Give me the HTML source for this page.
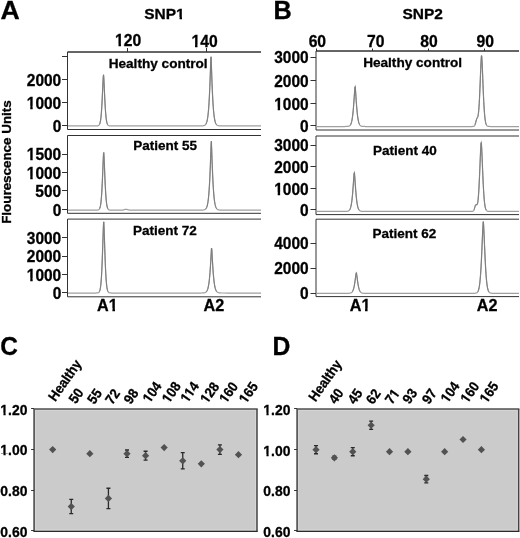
<!DOCTYPE html>
<html><head><meta charset="utf-8"><style>html,body{margin:0;padding:0;background:#fff;width:520px;height:538px;overflow:hidden}svg{display:block;will-change:transform;filter:blur(0.3px)}text{stroke:#000;stroke-width:0.3px}</style></head>
<body><svg width="520" height="538" viewBox="0 0 520 538" font-family="Liberation Sans, sans-serif" font-weight="bold" fill="#000"><text transform="translate(0.40,18.96) scale(1,0.987)" font-size="26.67">A</text>
<text transform="translate(273.47,18.70) scale(1,1.022)" font-size="25.25">B</text>
<text transform="translate(0.22,355.14) scale(1,1.071)" font-size="24.46">C</text>
<text transform="translate(272.53,355.00) scale(1,1.036)" font-size="24.75">D</text>
<text transform="translate(144.21,19.05) scale(1,0.981)" font-size="15.50">SNP1</text><path transform="translate(144.21,19.05) scale(1,0.981)" d="M31.87,-2.17H35.34V1.40H31.87ZM37.79,-2.17H41.79V1.40H37.79Z" fill="#fff"/>
<text transform="translate(402.45,19.05) scale(1,0.981)" font-size="15.50">SNP2</text>
<line x1="67.5" y1="52" x2="261" y2="52" stroke="#333" stroke-width="1"/>
<line x1="127.5" y1="48" x2="127.5" y2="52" stroke="#333" stroke-width="1"/>
<line x1="206.5" y1="48" x2="206.5" y2="52" stroke="#333" stroke-width="1"/>
<text transform="translate(114.96,46.19) scale(1,1.050)" font-size="15.70">120</text><path transform="translate(114.96,46.19) scale(1,1.050)" d="M-0.79,-2.20H3.52V1.41H-0.79ZM6.00,-2.20H8.87V1.41H6.00Z" fill="#fff"/>
<text transform="translate(191.50,46.95) scale(1,1.050)" font-size="15.70">140</text><path transform="translate(191.50,46.95) scale(1,1.050)" d="M-0.79,-2.20H3.52V1.41H-0.79ZM6.00,-2.20H8.87V1.41H6.00Z" fill="#fff"/>
<path d="M261,52 H67.5 V129.5 H261" fill="none" stroke="#333" stroke-width="1"/>
<line x1="62" y1="56.5" x2="67.5" y2="56.5" stroke="#333" stroke-width="1"/>
<line x1="62" y1="79.5" x2="67.5" y2="79.5" stroke="#333" stroke-width="1"/>
<text transform="translate(26.77,85.51) scale(1,1.050)" font-size="15.50">2000</text>
<line x1="62" y1="102.5" x2="67.5" y2="102.5" stroke="#333" stroke-width="1"/>
<text transform="translate(26.77,108.61) scale(1,1.050)" font-size="15.50">1000</text><path transform="translate(26.77,108.61) scale(1,1.050)" d="M-0.78,-2.17H3.47V1.40H-0.78ZM5.92,-2.17H8.76V1.40H5.92Z" fill="#fff"/>
<line x1="62" y1="125.5" x2="67.5" y2="125.5" stroke="#333" stroke-width="1"/>
<text transform="translate(52.65,131.71) scale(1,1.050)" font-size="15.50">0</text>
<path d="M261,135.5 H67.5 V213.3 H261" fill="none" stroke="#333" stroke-width="1"/>
<line x1="62" y1="154.5" x2="67.5" y2="154.5" stroke="#333" stroke-width="1"/>
<text transform="translate(26.77,160.17) scale(1,1.050)" font-size="15.50">1500</text><path transform="translate(26.77,160.17) scale(1,1.050)" d="M-0.78,-2.17H3.47V1.40H-0.78ZM5.92,-2.17H8.76V1.40H5.92Z" fill="#fff"/>
<line x1="62" y1="172.5" x2="67.5" y2="172.5" stroke="#333" stroke-width="1"/>
<text transform="translate(26.77,179.05) scale(1,1.050)" font-size="15.50">1000</text><path transform="translate(26.77,179.05) scale(1,1.050)" d="M-0.78,-2.17H3.47V1.40H-0.78ZM5.92,-2.17H8.76V1.40H5.92Z" fill="#fff"/>
<line x1="62" y1="190.5" x2="67.5" y2="190.5" stroke="#333" stroke-width="1"/>
<text transform="translate(35.29,196.91) scale(1,1.050)" font-size="15.50">500</text>
<line x1="62" y1="209.5" x2="67.5" y2="209.5" stroke="#333" stroke-width="1"/>
<text transform="translate(52.65,215.87) scale(1,1.050)" font-size="15.50">0</text>
<path d="M261,219.1 H67.5 V296.8 H261" fill="none" stroke="#333" stroke-width="1"/>
<line x1="62" y1="237.5" x2="67.5" y2="237.5" stroke="#333" stroke-width="1"/>
<text transform="translate(26.77,243.51) scale(1,1.050)" font-size="15.50">3000</text>
<line x1="62" y1="256.5" x2="67.5" y2="256.5" stroke="#333" stroke-width="1"/>
<text transform="translate(26.77,262.11) scale(1,1.050)" font-size="15.50">2000</text>
<line x1="62" y1="274.5" x2="67.5" y2="274.5" stroke="#333" stroke-width="1"/>
<text transform="translate(26.77,280.71) scale(1,1.050)" font-size="15.50">1000</text><path transform="translate(26.77,280.71) scale(1,1.050)" d="M-0.78,-2.17H3.47V1.40H-0.78ZM5.92,-2.17H8.76V1.40H5.92Z" fill="#fff"/>
<line x1="62" y1="292.5" x2="67.5" y2="292.5" stroke="#333" stroke-width="1"/>
<text transform="translate(52.65,298.51) scale(1,1.050)" font-size="15.50">0</text>
<polyline points="68.00,125.90 72.00,125.90 76.00,125.90 80.00,125.90 84.00,125.90 88.00,125.90 92.00,125.90 94.30,125.90 94.55,125.90 94.80,125.90 95.05,125.90 95.30,125.90 95.55,125.90 95.80,125.90 96.00,125.89 96.05,125.89 96.30,125.89 96.55,125.88 96.80,125.88 97.05,125.86 97.30,125.84 97.55,125.81 97.80,125.77 98.05,125.71 98.30,125.62 98.55,125.50 98.80,125.32 99.05,125.07 99.30,124.73 99.55,124.27 99.80,123.66 100.00,123.02 100.05,122.83 100.30,121.76 100.55,120.37 100.80,118.60 101.05,116.39 101.30,113.67 101.55,110.39 101.80,106.51 102.05,102.06 102.30,97.07 102.55,91.70 102.80,86.17 103.05,80.89 103.30,76.48 103.55,74.75 103.80,78.08 104.00,81.90 104.05,82.94 104.30,88.38 104.55,93.88 104.80,99.12 105.05,103.91 105.30,108.14 105.55,111.77 105.80,114.82 106.05,117.33 106.30,119.36 106.55,120.97 106.80,122.22 107.05,123.19 107.30,123.92 107.55,124.48 107.80,124.88 108.00,125.13 108.05,125.18 108.30,125.40 108.55,125.55 108.80,125.66 109.05,125.74 109.30,125.79 109.55,125.83 109.80,125.85 110.05,125.87 110.30,125.88 110.55,125.89 110.80,125.89 111.05,125.89 111.30,125.90 111.55,125.90 111.80,125.90 112.00,125.90 112.05,125.90 112.30,125.90 112.55,125.90 116.00,125.90 120.00,125.90 124.00,125.90 128.00,125.90 132.00,125.90 136.00,125.90 140.00,125.90 144.00,125.90 148.00,125.90 152.00,125.90 156.00,125.90 160.00,125.90 164.00,125.90 168.00,125.90 172.00,125.90 176.00,125.90 180.00,125.90 184.00,125.90 188.00,125.90 192.00,125.90 196.00,125.90 200.00,125.89 201.80,125.87 202.05,125.85 202.30,125.84 202.55,125.82 202.80,125.80 203.05,125.78 203.30,125.74 203.55,125.70 203.80,125.64 204.00,125.59 204.05,125.57 204.30,125.48 204.55,125.37 204.80,125.23 205.05,125.05 205.30,124.83 205.55,124.56 205.80,124.22 206.05,123.80 206.30,123.28 206.55,122.65 206.80,121.87 207.05,120.93 207.30,119.78 207.55,118.39 207.80,116.73 208.00,115.17 208.05,114.74 208.30,112.37 208.55,109.58 208.80,106.30 209.05,102.48 209.30,98.08 209.55,93.05 209.80,87.39 210.05,81.11 210.30,74.32 210.55,67.22 210.80,60.30 211.05,56.78 211.30,62.99 211.55,70.07 211.80,77.09 212.00,82.41 212.05,83.69 212.30,89.73 212.55,95.14 212.80,99.91 213.05,104.08 213.30,107.67 213.55,110.75 213.80,113.37 214.05,115.58 214.30,117.43 214.55,118.98 214.80,120.26 215.05,121.33 215.30,122.20 215.55,122.92 215.80,123.50 216.00,123.89 216.05,123.98 216.30,124.36 216.55,124.67 216.80,124.92 217.05,125.13 217.30,125.29 217.55,125.42 217.80,125.52 218.05,125.60 218.30,125.66 218.55,125.72 218.80,125.76 219.05,125.79 219.30,125.81 219.55,125.83 219.80,125.85 220.00,125.86 220.05,125.86 224.00,125.90 228.00,125.90 232.00,125.90 236.00,125.90 240.00,125.90 244.00,125.90 248.00,125.90 252.00,125.90 256.00,125.90 260.00,125.90 261.00,125.90" fill="none" stroke="#a0a0a0" stroke-width="1.25"/>
<polyline points="99.55,124.27 99.80,123.66 100.00,123.02 100.05,122.83 100.30,121.76 100.55,120.37 100.80,118.60 101.05,116.39 101.30,113.67 101.55,110.39 101.80,106.51 102.05,102.06 102.30,97.07 102.55,91.70 102.80,86.17 103.05,80.89 103.30,76.48 103.55,74.75 103.80,78.08 104.00,81.90 104.05,82.94 104.30,88.38 104.55,93.88 104.80,99.12 105.05,103.91 105.30,108.14 105.55,111.77 105.80,114.82 106.05,117.33 106.30,119.36 106.55,120.97 106.80,122.22 107.05,123.19 107.30,123.92 107.55,124.48" fill="none" stroke="#7c7c7c" stroke-width="1.0"/>
<polyline points="205.55,124.56 205.80,124.22 206.05,123.80 206.30,123.28 206.55,122.65 206.80,121.87 207.05,120.93 207.30,119.78 207.55,118.39 207.80,116.73 208.00,115.17 208.05,114.74 208.30,112.37 208.55,109.58 208.80,106.30 209.05,102.48 209.30,98.08 209.55,93.05 209.80,87.39 210.05,81.11 210.30,74.32 210.55,67.22 210.80,60.30 211.05,56.78 211.30,62.99 211.55,70.07 211.80,77.09 212.00,82.41 212.05,83.69 212.30,89.73 212.55,95.14 212.80,99.91 213.05,104.08 213.30,107.67 213.55,110.75 213.80,113.37 214.05,115.58 214.30,117.43 214.55,118.98 214.80,120.26 215.05,121.33 215.30,122.20 215.55,122.92 215.80,123.50 216.00,123.89 216.05,123.98 216.30,124.36 216.55,124.67" fill="none" stroke="#7c7c7c" stroke-width="1.0"/>
<polyline points="68.00,210.10 72.00,210.10 76.00,210.10 80.00,210.10 84.00,210.10 88.00,210.10 92.00,210.10 94.50,210.10 94.75,210.10 95.00,210.10 95.25,210.10 95.50,210.10 95.75,210.10 96.00,210.10 96.25,210.09 96.50,210.09 96.75,210.08 97.00,210.07 97.25,210.06 97.50,210.03 97.75,210.00 98.00,209.95 98.25,209.89 98.50,209.79 98.75,209.64 99.00,209.45 99.25,209.17 99.50,208.79 99.75,208.27 100.00,207.57 100.25,206.65 100.50,205.43 100.75,203.87 101.00,201.88 101.25,199.39 101.50,196.32 101.75,192.63 102.00,188.26 102.25,183.24 102.50,177.63 102.75,171.57 103.00,165.35 103.25,159.40 103.50,154.43 103.75,152.48 104.00,156.24 104.25,161.71 104.50,167.84 104.75,174.03 105.00,179.94 105.25,185.33 105.50,190.09 105.75,194.18 106.00,197.62 106.25,200.45 106.50,202.73 106.75,204.54 107.00,205.96 107.25,207.05 107.50,207.87 107.75,208.50 108.00,208.95 108.25,209.29 108.50,209.53 108.75,209.71 109.00,209.83 109.25,209.92 109.50,209.98 109.75,210.02 110.00,210.04 110.25,210.06 110.50,210.08 110.75,210.08 111.00,210.09 111.25,210.09 111.50,210.10 111.75,210.10 112.00,210.10 112.25,210.10 112.50,210.10 112.75,210.10 114.00,210.10 114.25,210.10 114.50,210.10 114.75,210.10 115.00,210.10 115.25,210.10 115.50,210.10 115.75,210.10 116.00,210.10 116.25,210.10 116.50,210.10 116.75,210.10 117.00,210.10 117.25,210.10 117.50,210.10 117.75,210.10 118.00,210.10 118.25,210.10 118.50,210.10 118.75,210.10 119.00,210.10 119.25,210.10 119.50,210.10 119.75,210.10 120.00,210.10 120.25,210.10 120.50,210.10 120.75,210.10 121.00,210.10 121.25,210.09 121.50,210.09 121.75,210.09 122.00,210.08 122.25,210.06 122.50,210.05 122.75,210.02 123.00,209.99 123.25,209.95 123.50,209.90 123.75,209.84 124.00,209.77 124.25,209.69 124.50,209.61 124.75,209.53 125.00,209.46 125.25,209.39 125.50,209.34 125.75,209.31 126.00,209.30 126.25,209.31 126.50,209.34 126.75,209.39 127.00,209.46 127.25,209.53 127.50,209.61 127.75,209.69 128.00,209.77 128.25,209.84 128.50,209.90 128.75,209.95 129.00,209.99 129.25,210.02 129.50,210.05 129.75,210.06 130.00,210.08 130.25,210.09 130.50,210.09 130.75,210.09 131.00,210.10 131.25,210.10 131.50,210.10 131.75,210.10 132.00,210.10 132.25,210.10 132.50,210.10 132.75,210.10 133.00,210.10 133.25,210.10 133.50,210.10 133.75,210.10 134.00,210.10 134.25,210.10 134.50,210.10 134.75,210.10 135.00,210.10 135.25,210.10 135.50,210.10 135.75,210.10 136.00,210.10 136.25,210.10 136.50,210.10 136.75,210.10 137.00,210.10 137.25,210.10 137.50,210.10 137.75,210.10 138.00,210.10 140.00,210.10 144.00,210.10 148.00,210.10 152.00,210.10 156.00,210.10 160.00,210.10 164.00,210.10 168.00,210.10 172.00,210.10 176.00,210.10 180.00,210.10 184.00,210.10 188.00,210.10 192.00,210.10 196.00,210.10 200.00,210.10 202.10,210.07 202.35,210.06 202.60,210.04 202.85,210.03 203.10,210.00 203.35,209.98 203.60,209.94 203.85,209.90 204.00,209.87 204.10,209.84 204.35,209.77 204.60,209.68 204.85,209.57 205.10,209.43 205.35,209.25 205.60,209.03 205.85,208.76 206.10,208.42 206.35,208.01 206.60,207.49 206.85,206.86 207.10,206.09 207.35,205.15 207.60,204.00 207.85,202.63 208.00,201.67 208.10,200.97 208.35,198.99 208.60,196.63 208.85,193.85 209.10,190.58 209.35,186.78 209.60,182.40 209.85,177.39 210.10,171.75 210.35,165.50 210.60,158.74 210.85,151.67 211.10,144.78 211.35,141.28 211.60,147.46 211.85,154.51 212.00,158.74 212.10,161.50 212.35,168.07 212.60,174.08 212.85,179.47 213.10,184.22 213.35,188.37 213.60,191.95 213.85,195.02 214.10,197.62 214.35,199.82 214.60,201.67 214.85,203.21 215.10,204.49 215.35,205.55 215.60,206.42 215.85,207.13 216.00,207.49 216.10,207.71 216.35,208.18 216.60,208.57 216.85,208.88 217.10,209.13 217.35,209.33 217.60,209.49 217.85,209.62 218.10,209.72 218.35,209.80 218.60,209.87 218.85,209.92 219.10,209.96 219.35,209.99 219.60,210.01 219.85,210.03 220.00,210.04 220.10,210.05 220.35,210.06 224.00,210.10 228.00,210.10 232.00,210.10 236.00,210.10 240.00,210.10 244.00,210.10 248.00,210.10 252.00,210.10 256.00,210.10 260.00,210.10 261.00,210.10" fill="none" stroke="#a0a0a0" stroke-width="1.25"/>
<polyline points="99.50,208.79 99.75,208.27 100.00,207.57 100.25,206.65 100.50,205.43 100.75,203.87 101.00,201.88 101.25,199.39 101.50,196.32 101.75,192.63 102.00,188.26 102.25,183.24 102.50,177.63 102.75,171.57 103.00,165.35 103.25,159.40 103.50,154.43 103.75,152.48 104.00,156.24 104.25,161.71 104.50,167.84 104.75,174.03 105.00,179.94 105.25,185.33 105.50,190.09 105.75,194.18 106.00,197.62 106.25,200.45 106.50,202.73 106.75,204.54 107.00,205.96 107.25,207.05 107.50,207.87 107.75,208.50" fill="none" stroke="#7c7c7c" stroke-width="1.0"/>
<polyline points="205.85,208.76 206.10,208.42 206.35,208.01 206.60,207.49 206.85,206.86 207.10,206.09 207.35,205.15 207.60,204.00 207.85,202.63 208.00,201.67 208.10,200.97 208.35,198.99 208.60,196.63 208.85,193.85 209.10,190.58 209.35,186.78 209.60,182.40 209.85,177.39 210.10,171.75 210.35,165.50 210.60,158.74 210.85,151.67 211.10,144.78 211.35,141.28 211.60,147.46 211.85,154.51 212.00,158.74 212.10,161.50 212.35,168.07 212.60,174.08 212.85,179.47 213.10,184.22 213.35,188.37 213.60,191.95 213.85,195.02 214.10,197.62 214.35,199.82 214.60,201.67 214.85,203.21 215.10,204.49 215.35,205.55 215.60,206.42 215.85,207.13 216.00,207.49 216.10,207.71 216.35,208.18 216.60,208.57 216.85,208.88" fill="none" stroke="#7c7c7c" stroke-width="1.0"/>
<polyline points="68.00,293.00 72.00,293.00 76.00,293.00 80.00,293.00 84.00,293.00 88.00,293.00 92.00,293.00 94.50,293.00 94.75,293.00 95.00,293.00 95.25,293.00 95.50,293.00 95.75,293.00 96.00,292.99 96.25,292.99 96.50,292.99 96.75,292.98 97.00,292.97 97.25,292.95 97.50,292.92 97.75,292.88 98.00,292.82 98.25,292.73 98.50,292.61 98.75,292.44 99.00,292.19 99.25,291.85 99.50,291.38 99.75,290.74 100.00,289.88 100.25,288.73 100.50,287.24 100.75,285.30 101.00,282.85 101.25,279.77 101.50,275.98 101.75,271.42 102.00,266.03 102.25,259.83 102.50,252.90 102.75,245.42 103.00,237.74 103.25,230.39 103.50,224.26 103.75,221.85 104.00,226.49 104.25,233.25 104.50,240.81 104.75,248.46 105.00,255.75 105.25,262.41 105.50,268.29 105.75,273.34 106.00,277.59 106.25,281.08 106.50,283.90 106.75,286.14 107.00,287.88 107.25,289.23 107.50,290.25 107.75,291.02 108.00,291.59 108.25,292.00 108.50,292.30 108.75,292.51 109.00,292.67 109.25,292.77 109.50,292.85 109.75,292.90 110.00,292.93 110.25,292.96 110.50,292.97 110.75,292.98 111.00,292.99 111.25,292.99 111.50,293.00 111.75,293.00 112.00,293.00 112.25,293.00 112.50,293.00 112.75,293.00 116.00,293.00 120.00,293.00 124.00,293.00 128.00,293.00 132.00,293.00 136.00,293.00 140.00,293.00 144.00,293.00 148.00,293.00 152.00,293.00 156.00,293.00 160.00,293.00 164.00,293.00 168.00,293.00 172.00,293.00 176.00,293.00 180.00,293.00 184.00,293.00 188.00,293.00 192.00,293.00 196.00,293.00 200.00,293.00 202.00,292.98 202.25,292.97 202.50,292.96 202.75,292.95 203.00,292.94 203.25,292.92 203.50,292.90 203.75,292.88 204.00,292.84 204.25,292.80 204.50,292.75 204.75,292.69 205.00,292.61 205.25,292.51 205.50,292.38 205.75,292.23 206.00,292.05 206.25,291.82 206.50,291.54 206.75,291.20 207.00,290.78 207.25,290.28 207.50,289.67 207.75,288.94 208.00,288.06 208.25,287.02 208.50,285.77 208.75,284.31 209.00,282.59 209.25,280.58 209.50,278.25 209.75,275.58 210.00,272.53 210.25,269.10 210.50,265.29 210.75,261.14 211.00,256.73 211.25,252.25 211.50,248.15 211.75,248.89 212.00,253.13 212.25,257.62 212.50,261.99 212.75,266.08 213.00,269.82 213.25,273.17 213.50,276.14 213.75,278.74 214.00,281.01 214.25,282.95 214.50,284.62 214.75,286.04 215.00,287.24 215.25,288.25 215.50,289.09 215.75,289.80 216.00,290.39 216.25,290.87 216.50,291.27 216.75,291.60 217.00,291.87 217.25,292.09 217.50,292.27 217.75,292.41 218.00,292.53 218.25,292.62 218.50,292.70 218.75,292.76 219.00,292.81 219.25,292.85 219.50,292.88 219.75,292.91 220.00,292.93 220.25,292.94 220.50,292.95 220.75,292.96 221.00,292.97 224.00,293.00 228.00,293.00 232.00,293.00 236.00,293.00 240.00,293.00 244.00,293.00 248.00,293.00 252.00,293.00 256.00,293.00 260.00,293.00 261.00,293.00" fill="none" stroke="#a0a0a0" stroke-width="1.25"/>
<polyline points="99.50,291.38 99.75,290.74 100.00,289.88 100.25,288.73 100.50,287.24 100.75,285.30 101.00,282.85 101.25,279.77 101.50,275.98 101.75,271.42 102.00,266.03 102.25,259.83 102.50,252.90 102.75,245.42 103.00,237.74 103.25,230.39 103.50,224.26 103.75,221.85 104.00,226.49 104.25,233.25 104.50,240.81 104.75,248.46 105.00,255.75 105.25,262.41 105.50,268.29 105.75,273.34 106.00,277.59 106.25,281.08 106.50,283.90 106.75,286.14 107.00,287.88 107.25,289.23 107.50,290.25 107.75,291.02 108.00,291.59" fill="none" stroke="#7c7c7c" stroke-width="1.0"/>
<polyline points="206.50,291.54 206.75,291.20 207.00,290.78 207.25,290.28 207.50,289.67 207.75,288.94 208.00,288.06 208.25,287.02 208.50,285.77 208.75,284.31 209.00,282.59 209.25,280.58 209.50,278.25 209.75,275.58 210.00,272.53 210.25,269.10 210.50,265.29 210.75,261.14 211.00,256.73 211.25,252.25 211.50,248.15 211.75,248.89 212.00,253.13 212.25,257.62 212.50,261.99 212.75,266.08 213.00,269.82 213.25,273.17 213.50,276.14 213.75,278.74 214.00,281.01 214.25,282.95 214.50,284.62 214.75,286.04 215.00,287.24 215.25,288.25 215.50,289.09 215.75,289.80 216.00,290.39 216.25,290.87 216.50,291.27 216.75,291.60" fill="none" stroke="#7c7c7c" stroke-width="1.0"/>
<text x="108.70" y="68.19" font-size="13.60">Healthy control</text>
<text x="133.25" y="150.36" font-size="13.50">Patient 55</text>
<text x="133.09" y="235.21" font-size="13.50">Patient 72</text>
<text x="97.09" y="310.54" font-size="16.20">A1</text><path transform="translate(97.09,310.54)" d="M11.70,-2.27H15.33V1.46H11.70ZM17.88,-2.27H22.06V1.46H17.88Z" fill="#fff"/>
<text x="203.46" y="310.67" font-size="16.20">A2</text>
<text transform="translate(10.88,162.05) rotate(-90)" font-size="13.40" text-anchor="middle">Flourescence Units</text>
<line x1="316" y1="51" x2="519" y2="51" stroke="#333" stroke-width="1"/>
<line x1="316.5" y1="48.5" x2="316.5" y2="51" stroke="#333" stroke-width="1"/>
<line x1="372.5" y1="48.5" x2="372.5" y2="51" stroke="#333" stroke-width="1"/>
<line x1="428.5" y1="48.5" x2="428.5" y2="51" stroke="#333" stroke-width="1"/>
<line x1="484.5" y1="48.5" x2="484.5" y2="51" stroke="#333" stroke-width="1"/>
<text transform="translate(308.63,46.54) scale(1,1.050)" font-size="15.70">60</text>
<text transform="translate(366.93,46.95) scale(1,1.050)" font-size="15.70">70</text>
<text transform="translate(420.33,46.95) scale(1,1.050)" font-size="15.70">80</text>
<text transform="translate(476.57,46.50) scale(1,1.050)" font-size="15.70">90</text>
<path d="M519,51 H316 V130 H519" fill="none" stroke="#333" stroke-width="1"/>
<line x1="310.5" y1="57.5" x2="316" y2="57.5" stroke="#333" stroke-width="1"/>
<text transform="translate(274.21,63.11) scale(1,1.050)" font-size="15.50">3000</text>
<line x1="310.5" y1="80.5" x2="316" y2="80.5" stroke="#333" stroke-width="1"/>
<text transform="translate(274.21,86.71) scale(1,1.050)" font-size="15.50">2000</text>
<line x1="310.5" y1="103.5" x2="316" y2="103.5" stroke="#333" stroke-width="1"/>
<text transform="translate(274.21,109.87) scale(1,1.050)" font-size="15.50">1000</text><path transform="translate(274.21,109.87) scale(1,1.050)" d="M-0.78,-2.17H3.47V1.40H-0.78ZM5.92,-2.17H8.76V1.40H5.92Z" fill="#fff"/>
<line x1="310.5" y1="125.5" x2="316" y2="125.5" stroke="#333" stroke-width="1"/>
<text transform="translate(300.10,131.81) scale(1,1.050)" font-size="15.50">0</text>
<path d="M519,136 H316 V214.6 H519" fill="none" stroke="#333" stroke-width="1"/>
<line x1="310.5" y1="145.5" x2="316" y2="145.5" stroke="#333" stroke-width="1"/>
<text transform="translate(274.21,151.11) scale(1,1.050)" font-size="15.50">3000</text>
<line x1="310.5" y1="166.5" x2="316" y2="166.5" stroke="#333" stroke-width="1"/>
<text transform="translate(274.21,172.81) scale(1,1.050)" font-size="15.50">2000</text>
<line x1="310.5" y1="188.5" x2="316" y2="188.5" stroke="#333" stroke-width="1"/>
<text transform="translate(274.21,194.71) scale(1,1.050)" font-size="15.50">1000</text><path transform="translate(274.21,194.71) scale(1,1.050)" d="M-0.78,-2.17H3.47V1.40H-0.78ZM5.92,-2.17H8.76V1.40H5.92Z" fill="#fff"/>
<line x1="310.5" y1="209.5" x2="316" y2="209.5" stroke="#333" stroke-width="1"/>
<text transform="translate(300.10,215.51) scale(1,1.050)" font-size="15.50">0</text>
<path d="M519,219.2 H316 V296.6 H519" fill="none" stroke="#333" stroke-width="1"/>
<line x1="310.5" y1="243.5" x2="316" y2="243.5" stroke="#333" stroke-width="1"/>
<text transform="translate(274.21,249.48) scale(1,1.050)" font-size="15.50">4000</text>
<line x1="310.5" y1="268.5" x2="316" y2="268.5" stroke="#333" stroke-width="1"/>
<text transform="translate(274.21,274.48) scale(1,1.050)" font-size="15.50">2000</text>
<line x1="310.5" y1="293.5" x2="316" y2="293.5" stroke="#333" stroke-width="1"/>
<text transform="translate(300.10,299.48) scale(1,1.050)" font-size="15.50">0</text>
<polyline points="316.50,126.50 320.50,126.50 324.50,126.50 328.50,126.50 332.50,126.50 336.50,126.50 340.50,126.50 344.50,126.50 344.70,126.50 344.95,126.50 345.20,126.50 345.45,126.49 345.70,126.49 345.95,126.49 346.20,126.48 346.45,126.48 346.70,126.47 346.95,126.46 347.20,126.45 347.45,126.43 347.70,126.40 347.95,126.37 348.20,126.33 348.45,126.28 348.50,126.27 348.70,126.21 348.95,126.13 349.20,126.02 349.45,125.88 349.70,125.70 349.95,125.47 350.20,125.19 350.45,124.84 350.70,124.40 350.95,123.86 351.20,123.20 351.45,122.40 351.70,121.42 351.95,120.26 352.20,118.87 352.45,117.23 352.50,116.87 352.70,115.31 352.95,113.10 353.20,110.57 353.45,107.72 353.70,104.56 353.95,101.13 354.20,97.50 354.45,93.79 354.70,90.20 354.95,87.14 355.20,86.65 355.45,89.53 355.70,93.05 355.95,96.76 356.20,100.42 356.45,103.90 356.50,104.56 356.70,107.11 356.95,110.03 357.20,112.62 357.45,114.89 357.70,116.87 357.95,118.56 358.20,120.00 358.45,121.21 358.70,122.22 358.95,123.05 359.20,123.74 359.45,124.30 359.70,124.76 359.95,125.13 360.20,125.42 360.45,125.66 360.50,125.70 360.70,125.85 360.95,125.99 361.20,126.11 361.45,126.20 361.70,126.27 361.95,126.32 362.20,126.37 362.45,126.40 362.70,126.42 362.95,126.44 363.20,126.46 363.45,126.47 363.70,126.48 363.95,126.48 364.20,126.49 364.45,126.49 364.50,126.49 364.70,126.49 364.95,126.49 365.20,126.50 365.45,126.50 368.50,126.50 372.50,126.50 376.50,126.50 380.50,126.50 384.50,126.50 388.50,126.50 392.50,126.50 396.50,126.50 400.50,126.50 404.50,126.50 408.50,126.50 412.50,126.50 416.50,126.50 420.50,126.50 424.50,126.50 428.50,126.50 432.50,126.50 436.50,126.50 440.50,126.50 444.50,126.50 448.50,126.50 452.50,126.50 456.50,126.50 460.50,126.50 464.50,126.50 468.00,126.50 468.25,126.50 468.50,126.50 468.75,126.50 469.00,126.50 469.25,126.50 469.50,126.50 469.75,126.50 469.95,126.50 470.00,126.50 470.20,126.50 470.25,126.50 470.45,126.50 470.50,126.50 470.70,126.50 470.75,126.50 470.95,126.50 471.00,126.50 471.20,126.50 471.25,126.50 471.45,126.50 471.50,126.50 471.70,126.50 471.75,126.50 471.95,126.50 472.00,126.50 472.20,126.50 472.25,126.50 472.45,126.50 472.50,126.49 472.70,126.49 472.75,126.49 472.95,126.48 473.00,126.48 473.20,126.46 473.25,126.46 473.45,126.43 473.50,126.42 473.70,126.37 473.75,126.35 473.95,126.26 474.00,126.23 474.20,126.09 474.25,126.05 474.45,125.82 474.50,125.76 474.70,125.44 474.75,125.34 474.95,124.90 475.00,124.78 475.20,124.21 475.25,124.06 475.45,123.38 475.50,123.20 475.70,122.44 475.75,122.24 475.95,121.45 476.00,121.25 476.20,120.49 476.25,120.30 476.45,119.62 476.50,119.47 476.70,118.90 476.75,118.78 476.95,118.34 477.00,118.25 477.20,117.89 477.25,117.81 477.45,117.46 477.50,117.37 477.70,116.92 477.75,116.78 477.95,116.11 478.00,115.90 478.20,114.88 478.25,114.58 478.45,113.12 478.50,112.69 478.70,110.71 478.75,110.14 478.95,107.60 479.00,106.89 479.20,103.77 479.25,102.92 479.45,99.23 479.50,98.24 479.70,94.04 479.75,92.93 479.95,88.30 480.00,87.10 480.20,82.16 480.25,80.90 480.45,75.83 480.50,74.57 480.70,69.61 480.75,68.41 480.95,63.86 481.00,62.80 481.20,59.05 481.25,58.26 481.45,55.89 481.50,55.56 481.70,56.34 481.75,56.90 481.95,59.91 482.00,60.83 482.20,64.96 482.25,66.08 482.45,70.84 482.50,72.08 482.70,77.13 482.75,78.40 482.95,83.47 483.00,84.72 483.20,89.60 483.25,90.78 483.45,95.33 483.50,96.42 483.70,100.56 483.75,101.54 483.95,105.20 484.00,106.06 484.20,109.25 484.25,109.99 484.45,112.70 484.50,113.33 484.70,115.60 484.75,116.12 484.95,117.99 485.00,118.42 485.20,119.94 485.25,120.28 485.45,121.49 485.50,121.76 485.70,122.72 485.95,123.68 486.20,124.42 486.45,124.98 486.70,125.40 486.95,125.71 487.20,125.94 487.45,126.11 487.70,126.23 487.95,126.31 488.20,126.37 488.45,126.41 488.50,126.42 488.70,126.44 488.95,126.46 489.20,126.47 489.45,126.48 489.70,126.49 489.95,126.49 490.20,126.50 490.45,126.50 490.70,126.50 490.95,126.50 491.20,126.50 491.45,126.50 491.70,126.50 491.95,126.50 492.20,126.50 492.45,126.50 492.50,126.50 492.70,126.50 492.95,126.50 496.50,126.50 500.50,126.50 504.50,126.50 508.50,126.50 512.50,126.50 516.50,126.50 519.00,126.50" fill="none" stroke="#a0a0a0" stroke-width="1.25"/>
<polyline points="350.20,125.19 350.45,124.84 350.70,124.40 350.95,123.86 351.20,123.20 351.45,122.40 351.70,121.42 351.95,120.26 352.20,118.87 352.45,117.23 352.50,116.87 352.70,115.31 352.95,113.10 353.20,110.57 353.45,107.72 353.70,104.56 353.95,101.13 354.20,97.50 354.45,93.79 354.70,90.20 354.95,87.14 355.20,86.65 355.45,89.53 355.70,93.05 355.95,96.76 356.20,100.42 356.45,103.90 356.50,104.56 356.70,107.11 356.95,110.03 357.20,112.62 357.45,114.89 357.70,116.87 357.95,118.56 358.20,120.00 358.45,121.21 358.70,122.22 358.95,123.05 359.20,123.74 359.45,124.30 359.70,124.76 359.95,125.13" fill="none" stroke="#7c7c7c" stroke-width="1.0"/>
<polyline points="474.95,124.90 475.00,124.78 475.20,124.21 475.25,124.06 475.45,123.38 475.50,123.20 475.70,122.44 475.75,122.24 475.95,121.45 476.00,121.25 476.20,120.49 476.25,120.30 476.45,119.62 476.50,119.47 476.70,118.90 476.75,118.78 476.95,118.34 477.00,118.25 477.20,117.89 477.25,117.81 477.45,117.46 477.50,117.37 477.70,116.92 477.75,116.78 477.95,116.11 478.00,115.90 478.20,114.88 478.25,114.58 478.45,113.12 478.50,112.69 478.70,110.71 478.75,110.14 478.95,107.60 479.00,106.89 479.20,103.77 479.25,102.92 479.45,99.23 479.50,98.24 479.70,94.04 479.75,92.93 479.95,88.30 480.00,87.10 480.20,82.16 480.25,80.90 480.45,75.83 480.50,74.57 480.70,69.61 480.75,68.41 480.95,63.86 481.00,62.80 481.20,59.05 481.25,58.26 481.45,55.89 481.50,55.56 481.70,56.34 481.75,56.90 481.95,59.91 482.00,60.83 482.20,64.96 482.25,66.08 482.45,70.84 482.50,72.08 482.70,77.13 482.75,78.40 482.95,83.47 483.00,84.72 483.20,89.60 483.25,90.78 483.45,95.33 483.50,96.42 483.70,100.56 483.75,101.54 483.95,105.20 484.00,106.06 484.20,109.25 484.25,109.99 484.45,112.70 484.50,113.33 484.70,115.60 484.75,116.12 484.95,117.99 485.00,118.42 485.20,119.94 485.25,120.28 485.45,121.49 485.50,121.76 485.70,122.72 485.95,123.68 486.20,124.42 486.45,124.98" fill="none" stroke="#7c7c7c" stroke-width="1.0"/>
<polyline points="316.50,211.40 320.50,211.40 324.50,211.40 328.50,211.40 332.50,211.40 336.50,211.40 340.50,211.40 343.90,211.40 344.15,211.40 344.40,211.40 344.50,211.39 344.65,211.39 344.90,211.39 345.15,211.39 345.40,211.38 345.65,211.38 345.90,211.37 346.15,211.36 346.40,211.35 346.65,211.33 346.90,211.31 347.15,211.28 347.40,211.24 347.65,211.19 347.90,211.12 348.15,211.04 348.40,210.93 348.50,210.88 348.65,210.79 348.90,210.62 349.15,210.40 349.40,210.13 349.65,209.78 349.90,209.36 350.15,208.83 350.40,208.19 350.65,207.41 350.90,206.46 351.15,205.33 351.40,203.97 351.65,202.38 351.90,200.52 352.15,198.36 352.40,195.90 352.50,194.83 352.65,193.13 352.90,190.06 353.15,186.72 353.40,183.19 353.65,179.57 353.90,176.09 354.15,173.10 354.40,172.64 354.65,175.43 354.90,178.86 355.15,182.47 355.40,186.03 355.65,189.41 355.90,192.54 356.15,195.37 356.40,197.90 356.50,198.82 356.65,200.11 356.90,202.03 357.15,203.68 357.40,205.07 357.65,206.25 357.90,207.23 358.15,208.05 358.40,208.72 358.65,209.26 358.90,209.71 359.15,210.06 359.40,210.35 359.65,210.58 359.90,210.76 360.15,210.91 360.40,211.02 360.50,211.06 360.65,211.11 360.90,211.18 361.15,211.23 361.40,211.27 361.65,211.30 361.90,211.33 362.15,211.34 362.40,211.36 362.65,211.37 362.90,211.38 363.15,211.38 363.40,211.39 363.65,211.39 363.90,211.39 364.15,211.39 364.40,211.40 364.50,211.40 364.65,211.40 368.50,211.40 372.50,211.40 376.50,211.40 380.50,211.40 384.50,211.40 388.50,211.40 392.50,211.40 396.50,211.40 400.50,211.40 404.50,211.40 408.50,211.40 412.50,211.40 416.50,211.40 420.50,211.40 424.50,211.40 428.50,211.40 432.50,211.40 436.50,211.40 440.50,211.40 444.50,211.40 448.50,211.40 452.50,211.40 456.50,211.40 460.50,211.40 464.50,211.40 467.00,211.40 467.25,211.40 467.50,211.40 467.75,211.40 468.00,211.40 468.25,211.40 468.50,211.40 468.75,211.40 469.00,211.40 469.25,211.40 469.50,211.40 469.60,211.40 469.75,211.40 469.85,211.40 470.00,211.40 470.10,211.40 470.25,211.40 470.35,211.40 470.50,211.40 470.60,211.40 470.75,211.40 470.85,211.40 471.00,211.40 471.10,211.40 471.25,211.40 471.35,211.40 471.50,211.40 471.60,211.40 471.75,211.39 471.85,211.39 472.00,211.38 472.10,211.38 472.25,211.37 472.35,211.35 472.50,211.33 472.60,211.31 472.75,211.27 472.85,211.23 473.00,211.16 473.10,211.10 473.25,210.98 473.35,210.89 473.50,210.71 473.60,210.57 473.75,210.33 473.85,210.13 474.00,209.80 474.10,209.55 474.25,209.14 474.35,208.83 474.50,208.35 474.60,208.01 474.75,207.49 474.85,207.14 475.00,206.62 475.10,206.30 475.25,205.84 475.35,205.56 475.50,205.21 475.60,205.02 475.75,204.79 475.85,204.69 476.00,204.60 476.10,204.58 476.25,204.59 476.35,204.62 476.50,204.68 476.60,204.72 476.75,204.76 476.85,204.76 477.00,204.69 477.10,204.59 477.25,204.33 477.35,204.08 477.50,203.57 477.60,203.14 477.75,202.33 477.85,201.68 478.00,200.53 478.10,199.64 478.25,198.12 478.35,196.98 478.50,195.08 478.60,193.69 478.75,191.40 478.85,189.75 479.00,187.09 479.10,185.19 479.25,182.17 479.35,180.05 479.50,176.71 479.60,174.41 479.75,170.84 479.85,168.41 480.00,164.72 480.10,162.25 480.25,158.59 480.35,156.20 480.50,152.77 480.60,150.61 480.75,147.67 480.85,145.95 481.00,143.85 481.10,142.87 481.25,142.55 481.35,143.31 481.50,145.18 481.60,146.78 481.75,149.59 481.85,151.67 482.00,155.03 482.10,157.39 482.25,161.03 482.35,163.49 482.50,167.19 482.60,169.64 482.75,173.24 482.85,175.59 483.00,178.98 483.10,181.15 483.25,184.26 483.35,186.22 483.50,189.00 483.60,190.73 483.75,193.16 483.85,194.66 484.00,196.74 484.10,198.01 484.25,199.76 484.35,200.82 484.50,202.27 484.60,203.14 484.85,205.03 485.10,206.54 485.35,207.74 485.60,208.67 485.85,209.38 486.10,209.92 486.35,210.33 486.60,210.64 486.85,210.86 487.10,211.02 487.35,211.14 487.60,211.22 487.85,211.28 488.10,211.32 488.35,211.34 488.50,211.36 488.60,211.36 488.85,211.38 489.10,211.38 489.35,211.39 489.60,211.39 489.85,211.40 490.10,211.40 490.35,211.40 490.60,211.40 490.85,211.40 491.10,211.40 491.35,211.40 491.60,211.40 491.85,211.40 492.10,211.40 492.35,211.40 492.50,211.40 492.60,211.40 496.50,211.40 500.50,211.40 504.50,211.40 508.50,211.40 512.50,211.40 516.50,211.40 519.00,211.40" fill="none" stroke="#a0a0a0" stroke-width="1.25"/>
<polyline points="349.40,210.13 349.65,209.78 349.90,209.36 350.15,208.83 350.40,208.19 350.65,207.41 350.90,206.46 351.15,205.33 351.40,203.97 351.65,202.38 351.90,200.52 352.15,198.36 352.40,195.90 352.50,194.83 352.65,193.13 352.90,190.06 353.15,186.72 353.40,183.19 353.65,179.57 353.90,176.09 354.15,173.10 354.40,172.64 354.65,175.43 354.90,178.86 355.15,182.47 355.40,186.03 355.65,189.41 355.90,192.54 356.15,195.37 356.40,197.90 356.50,198.82 356.65,200.11 356.90,202.03 357.15,203.68 357.40,205.07 357.65,206.25 357.90,207.23 358.15,208.05 358.40,208.72 358.65,209.26 358.90,209.71 359.15,210.06" fill="none" stroke="#7c7c7c" stroke-width="1.0"/>
<polyline points="473.85,210.13 474.00,209.80 474.10,209.55 474.25,209.14 474.35,208.83 474.50,208.35 474.60,208.01 474.75,207.49 474.85,207.14 475.00,206.62 475.10,206.30 475.25,205.84 475.35,205.56 475.50,205.21 475.60,205.02 475.75,204.79 475.85,204.69 476.00,204.60 476.10,204.58 476.25,204.59 476.35,204.62 476.50,204.68 476.60,204.72 476.75,204.76 476.85,204.76 477.00,204.69 477.10,204.59 477.25,204.33 477.35,204.08 477.50,203.57 477.60,203.14 477.75,202.33 477.85,201.68 478.00,200.53 478.10,199.64 478.25,198.12 478.35,196.98 478.50,195.08 478.60,193.69 478.75,191.40 478.85,189.75 479.00,187.09 479.10,185.19 479.25,182.17 479.35,180.05 479.50,176.71 479.60,174.41 479.75,170.84 479.85,168.41 480.00,164.72 480.10,162.25 480.25,158.59 480.35,156.20 480.50,152.77 480.60,150.61 480.75,147.67 480.85,145.95 481.00,143.85 481.10,142.87 481.25,142.55 481.35,143.31 481.50,145.18 481.60,146.78 481.75,149.59 481.85,151.67 482.00,155.03 482.10,157.39 482.25,161.03 482.35,163.49 482.50,167.19 482.60,169.64 482.75,173.24 482.85,175.59 483.00,178.98 483.10,181.15 483.25,184.26 483.35,186.22 483.50,189.00 483.60,190.73 483.75,193.16 483.85,194.66 484.00,196.74 484.10,198.01 484.25,199.76 484.35,200.82 484.50,202.27 484.60,203.14 484.85,205.03 485.10,206.54 485.35,207.74 485.60,208.67 485.85,209.38 486.10,209.92" fill="none" stroke="#7c7c7c" stroke-width="1.0"/>
<polyline points="316.50,293.30 320.50,293.30 324.50,293.30 328.50,293.30 332.50,293.30 336.50,293.30 340.50,293.30 344.50,293.30 345.90,293.30 346.15,293.30 346.40,293.30 346.65,293.30 346.90,293.30 347.15,293.29 347.40,293.29 347.65,293.29 347.90,293.28 348.15,293.28 348.40,293.27 348.50,293.27 348.65,293.26 348.90,293.25 349.15,293.24 349.40,293.21 349.65,293.19 349.90,293.15 350.15,293.11 350.40,293.05 350.65,292.98 350.90,292.89 351.15,292.77 351.40,292.63 351.65,292.45 351.90,292.22 352.15,291.95 352.40,291.61 352.50,291.45 352.65,291.19 352.90,290.69 353.15,290.09 353.40,289.38 353.65,288.54 353.90,287.55 354.15,286.42 354.40,285.12 354.65,283.66 354.90,282.03 355.15,280.27 355.40,278.41 355.65,276.50 355.90,274.66 356.15,273.08 356.40,272.84 356.50,273.36 356.65,274.31 356.90,276.12 357.15,278.02 357.40,279.91 357.65,281.69 357.90,283.34 358.15,284.84 358.40,286.17 358.65,287.34 358.90,288.35 359.15,289.22 359.40,289.96 359.65,290.58 359.90,291.10 360.15,291.53 360.40,291.88 360.50,292.01 360.65,292.17 360.90,292.41 361.15,292.60 361.40,292.75 361.65,292.87 361.90,292.96 362.15,293.04 362.40,293.10 362.65,293.15 362.90,293.18 363.15,293.21 363.40,293.23 363.65,293.25 363.90,293.26 364.15,293.27 364.40,293.28 364.50,293.28 364.65,293.28 364.90,293.29 365.15,293.29 365.40,293.29 365.65,293.30 365.90,293.30 366.15,293.30 366.40,293.30 366.65,293.30 368.50,293.30 372.50,293.30 376.50,293.30 380.50,293.30 384.50,293.30 388.50,293.30 392.50,293.30 396.50,293.30 400.50,293.30 404.50,293.30 408.50,293.30 412.50,293.30 416.50,293.30 420.50,293.30 424.50,293.30 428.50,293.30 432.50,293.30 436.50,293.30 440.50,293.30 444.50,293.30 448.50,293.30 452.50,293.30 456.50,293.30 460.50,293.30 464.50,293.30 468.50,293.30 471.30,293.30 471.55,293.30 471.80,293.30 472.05,293.30 472.30,293.30 472.50,293.30 472.55,293.30 472.80,293.30 473.05,293.30 473.30,293.29 473.55,293.29 473.80,293.29 474.05,293.28 474.30,293.28 474.55,293.27 474.80,293.25 475.05,293.23 475.30,293.21 475.55,293.18 475.80,293.13 476.05,293.08 476.30,293.00 476.50,292.92 476.55,292.90 476.80,292.76 477.05,292.59 477.30,292.37 477.55,292.08 477.80,291.71 478.05,291.25 478.30,290.66 478.55,289.93 478.80,289.02 479.05,287.91 479.30,286.55 479.55,284.90 479.80,282.93 480.05,280.59 480.30,277.85 480.50,275.33 480.55,274.65 480.80,270.99 481.05,266.84 481.30,262.20 481.55,257.11 481.80,251.62 482.05,245.85 482.30,239.93 482.55,234.11 482.80,228.71 483.05,224.20 483.30,221.60 483.55,224.20 483.80,228.71 484.05,234.11 484.30,239.93 484.50,244.67 484.55,245.85 484.80,251.62 485.05,257.11 485.30,262.20 485.55,266.84 485.80,270.99 486.05,274.65 486.30,277.85 486.55,280.59 486.80,282.93 487.05,284.90 487.30,286.55 487.55,287.91 487.80,289.02 488.05,289.93 488.30,290.66 488.50,291.14 488.55,291.25 488.80,291.71 489.05,292.08 489.30,292.37 489.55,292.59 489.80,292.76 490.05,292.90 490.30,293.00 490.55,293.08 490.80,293.13 491.05,293.18 491.30,293.21 491.55,293.23 491.80,293.25 492.05,293.27 492.30,293.28 492.50,293.28 492.55,293.28 492.80,293.29 493.05,293.29 493.30,293.29 493.55,293.30 493.80,293.30 494.05,293.30 494.30,293.30 494.55,293.30 494.80,293.30 495.05,293.30 495.30,293.30 496.50,293.30 500.50,293.30 504.50,293.30 508.50,293.30 512.50,293.30 516.50,293.30 519.00,293.30" fill="none" stroke="#a0a0a0" stroke-width="1.25"/>
<polyline points="352.15,291.95 352.40,291.61 352.50,291.45 352.65,291.19 352.90,290.69 353.15,290.09 353.40,289.38 353.65,288.54 353.90,287.55 354.15,286.42 354.40,285.12 354.65,283.66 354.90,282.03 355.15,280.27 355.40,278.41 355.65,276.50 355.90,274.66 356.15,273.08 356.40,272.84 356.50,273.36 356.65,274.31 356.90,276.12 357.15,278.02 357.40,279.91 357.65,281.69 357.90,283.34 358.15,284.84 358.40,286.17 358.65,287.34 358.90,288.35 359.15,289.22 359.40,289.96 359.65,290.58 359.90,291.10 360.15,291.53 360.40,291.88 360.50,292.01" fill="none" stroke="#7c7c7c" stroke-width="1.0"/>
<polyline points="477.55,292.08 477.80,291.71 478.05,291.25 478.30,290.66 478.55,289.93 478.80,289.02 479.05,287.91 479.30,286.55 479.55,284.90 479.80,282.93 480.05,280.59 480.30,277.85 480.50,275.33 480.55,274.65 480.80,270.99 481.05,266.84 481.30,262.20 481.55,257.11 481.80,251.62 482.05,245.85 482.30,239.93 482.55,234.11 482.80,228.71 483.05,224.20 483.30,221.60 483.55,224.20 483.80,228.71 484.05,234.11 484.30,239.93 484.50,244.67 484.55,245.85 484.80,251.62 485.05,257.11 485.30,262.20 485.55,266.84 485.80,270.99 486.05,274.65 486.30,277.85 486.55,280.59 486.80,282.93 487.05,284.90 487.30,286.55 487.55,287.91 487.80,289.02 488.05,289.93 488.30,290.66 488.50,291.14 488.55,291.25 488.80,291.71 489.05,292.08" fill="none" stroke="#7c7c7c" stroke-width="1.0"/>
<text x="363.15" y="67.19" font-size="13.60">Healthy control</text>
<text x="373.00" y="155.37" font-size="13.50">Patient 40</text>
<text x="372.54" y="237.80" font-size="13.50">Patient 62</text>
<text x="349.72" y="310.83" font-size="16.20">A1</text><path transform="translate(349.72,310.83)" d="M11.70,-2.27H15.33V1.46H11.70ZM17.88,-2.27H22.06V1.46H17.88Z" fill="#fff"/>
<text x="476.76" y="311.11" font-size="16.20">A2</text>
<rect x="34.1" y="408.9" width="222.9" height="122.10000000000002" fill="#cbcbcb"/>
<rect x="35.6" y="410.2" width="219.9" height="119.80000000000003" fill="none" stroke="#d6d6d6" stroke-width="1"/>
<line x1="33.9" y1="408.9" x2="257.7" y2="408.9" stroke="#505050" stroke-width="1.5"/>
<line x1="257" y1="408.9" x2="257" y2="531.5" stroke="#454545" stroke-width="1.5"/>
<line x1="34.1" y1="408.9" x2="34.1" y2="531" stroke="#555" stroke-width="1.7"/>
<line x1="33.300000000000004" y1="531.4" x2="257.7" y2="531.4" stroke="#2a2a2a" stroke-width="1.1"/>
<line x1="31.1" y1="408.5" x2="34.1" y2="408.5" stroke="#333" stroke-width="1"/>
<text transform="translate(0.35,414.74) scale(1,1.030)" font-size="13.90">1.20</text><path transform="translate(0.35,414.74) scale(1,1.030)" d="M-0.70,-1.95H3.11V1.25H-0.70ZM5.31,-1.95H7.85V1.25H5.31Z" fill="#fff"/>
<line x1="31.1" y1="449.5" x2="34.1" y2="449.5" stroke="#333" stroke-width="1"/>
<text transform="translate(0.35,455.44) scale(1,1.030)" font-size="13.90">1.00</text><path transform="translate(0.35,455.44) scale(1,1.030)" d="M-0.70,-1.95H3.11V1.25H-0.70ZM5.31,-1.95H7.85V1.25H5.31Z" fill="#fff"/>
<line x1="31.1" y1="490.5" x2="34.1" y2="490.5" stroke="#333" stroke-width="1"/>
<text transform="translate(0.35,496.14) scale(1,1.030)" font-size="13.90">0.80</text>
<line x1="31.1" y1="530.5" x2="34.1" y2="530.5" stroke="#333" stroke-width="1"/>
<text transform="translate(0.35,536.84) scale(1,1.030)" font-size="13.90">0.60</text>
<path d="M52.68,446.00 L56.28,449.60 L52.68,453.20 L49.08,449.60 Z" fill="#525252"/>
<path d="M71.26,499.46 V513.70 M69.26,499.46 H73.26 M69.26,513.70 H73.26" stroke="#2a2a2a" stroke-width="1.3" fill="none"/>
<path d="M71.26,502.98 L74.86,506.58 L71.26,510.18 L67.66,506.58 Z" fill="#525252"/>
<path d="M89.84,450.07 L93.44,453.67 L89.84,457.27 L86.24,453.67 Z" fill="#525252"/>
<path d="M108.42,488.26 V508.62 M106.42,488.26 H110.42 M106.42,508.62 H110.42" stroke="#2a2a2a" stroke-width="1.3" fill="none"/>
<path d="M108.42,494.84 L112.02,498.44 L108.42,502.04 L104.82,498.44 Z" fill="#525252"/>
<path d="M127.00,450.01 V457.33 M125.00,450.01 H129.00 M125.00,457.33 H129.00" stroke="#2a2a2a" stroke-width="1.3" fill="none"/>
<path d="M127.00,450.07 L130.60,453.67 L127.00,457.27 L123.40,453.67 Z" fill="#525252"/>
<path d="M145.58,451.23 V460.18 M143.58,451.23 H147.58 M143.58,460.18 H147.58" stroke="#2a2a2a" stroke-width="1.3" fill="none"/>
<path d="M145.58,452.10 L149.18,455.70 L145.58,459.31 L141.98,455.70 Z" fill="#525252"/>
<path d="M164.16,443.96 L167.76,447.56 L164.16,451.17 L160.56,447.56 Z" fill="#525252"/>
<path d="M182.74,452.65 V468.93 M180.74,452.65 H184.74 M180.74,468.93 H184.74" stroke="#2a2a2a" stroke-width="1.3" fill="none"/>
<path d="M182.74,457.19 L186.34,460.79 L182.74,464.39 L179.14,460.79 Z" fill="#525252"/>
<path d="M201.32,460.24 L204.92,463.84 L201.32,467.44 L197.72,463.84 Z" fill="#525252"/>
<path d="M219.90,444.92 V454.28 M217.90,444.92 H221.90 M217.90,454.28 H221.90" stroke="#2a2a2a" stroke-width="1.3" fill="none"/>
<path d="M219.90,446.00 L223.50,449.60 L219.90,453.20 L216.30,449.60 Z" fill="#525252"/>
<path d="M238.48,451.09 L242.08,454.69 L238.48,458.29 L234.88,454.69 Z" fill="#525252"/>
<text transform="translate(55.30,402.23) rotate(-55) scale(0.93,1)" font-size="14">Healthy</text>
<text transform="translate(75.83,404.50) rotate(-55) scale(0.93,1)" font-size="14">50</text>
<text transform="translate(94.35,404.90) rotate(-55) scale(0.93,1)" font-size="14">55</text>
<text transform="translate(112.30,405.20) rotate(-55) scale(0.93,1)" font-size="14">72</text>
<text transform="translate(130.75,404.95) rotate(-55) scale(0.93,1)" font-size="14">98</text>
<text transform="translate(149.82,403.75) rotate(-55) scale(0.93,1)" font-size="14">104</text><path transform="translate(149.82,403.75) rotate(-55) scale(0.93,1)" d="M-0.70,-1.96H3.14V1.26H-0.70ZM5.35,-1.96H7.91V1.26H5.35Z" fill="#fff"/>
<text transform="translate(169.05,403.93) rotate(-55) scale(0.93,1)" font-size="14">108</text><path transform="translate(169.05,403.93) rotate(-55) scale(0.93,1)" d="M-0.70,-1.96H3.14V1.26H-0.70ZM5.35,-1.96H7.91V1.26H5.35Z" fill="#fff"/>
<text transform="translate(187.50,403.38) rotate(-55) scale(0.93,1)" font-size="14">114</text><path transform="translate(187.50,403.38) rotate(-55) scale(0.93,1)" d="M-0.70,-1.96H3.14V1.26H-0.70ZM5.35,-1.96H7.91V1.26H5.35ZM7.00,-1.96H10.14V1.26H7.00ZM12.35,-1.96H14.91V1.26H12.35Z" fill="#fff"/>
<text transform="translate(207.35,404.23) rotate(-55) scale(0.93,1)" font-size="14">128</text><path transform="translate(207.35,404.23) rotate(-55) scale(0.93,1)" d="M-0.70,-1.96H3.14V1.26H-0.70ZM5.35,-1.96H7.91V1.26H5.35Z" fill="#fff"/>
<text transform="translate(226.22,403.98) rotate(-55) scale(0.93,1)" font-size="14">160</text><path transform="translate(226.22,403.98) rotate(-55) scale(0.93,1)" d="M-0.70,-1.96H3.14V1.26H-0.70ZM5.35,-1.96H7.91V1.26H5.35Z" fill="#fff"/>
<text transform="translate(246.10,404.18) rotate(-55) scale(0.93,1)" font-size="14">165</text><path transform="translate(246.10,404.18) rotate(-55) scale(0.93,1)" d="M-0.70,-1.96H3.14V1.26H-0.70ZM5.35,-1.96H7.91V1.26H5.35Z" fill="#fff"/>
<rect x="297.1" y="409" width="221.60000000000002" height="122" fill="#cbcbcb"/>
<rect x="298.6" y="410.3" width="218.60000000000002" height="119.7" fill="none" stroke="#d6d6d6" stroke-width="1"/>
<line x1="296.90000000000003" y1="409" x2="519.4000000000001" y2="409" stroke="#505050" stroke-width="1.5"/>
<line x1="518.7" y1="409" x2="518.7" y2="531.5" stroke="#454545" stroke-width="1.5"/>
<line x1="297.1" y1="409" x2="297.1" y2="531" stroke="#555" stroke-width="1.7"/>
<line x1="296.3" y1="531.4" x2="519.4000000000001" y2="531.4" stroke="#2a2a2a" stroke-width="1.1"/>
<line x1="294.1" y1="408.5" x2="297.1" y2="408.5" stroke="#333" stroke-width="1"/>
<text transform="translate(263.33,414.84) scale(1,1.030)" font-size="13.90">1.20</text><path transform="translate(263.33,414.84) scale(1,1.030)" d="M-0.70,-1.95H3.11V1.25H-0.70ZM5.31,-1.95H7.85V1.25H5.31Z" fill="#fff"/>
<line x1="294.1" y1="449.5" x2="297.1" y2="449.5" stroke="#333" stroke-width="1"/>
<text transform="translate(263.33,455.93) scale(1,1.030)" font-size="13.90">1.00</text><path transform="translate(263.33,455.93) scale(1,1.030)" d="M-0.70,-1.95H3.11V1.25H-0.70ZM5.31,-1.95H7.85V1.25H5.31Z" fill="#fff"/>
<line x1="294.1" y1="490.5" x2="297.1" y2="490.5" stroke="#333" stroke-width="1"/>
<text transform="translate(263.33,496.17) scale(1,1.030)" font-size="13.90">0.80</text>
<line x1="294.1" y1="530.5" x2="297.1" y2="530.5" stroke="#333" stroke-width="1"/>
<text transform="translate(263.33,536.84) scale(1,1.030)" font-size="13.90">0.60</text>
<path d="M316.00,445.60 V453.73 M314.00,445.60 H318.00 M314.00,453.73 H318.00" stroke="#2a2a2a" stroke-width="1.3" fill="none"/>
<path d="M316.00,446.07 L319.60,449.67 L316.00,453.27 L312.40,449.67 Z" fill="#525252"/>
<path d="M334.38,456.17 V459.43 M332.38,456.17 H336.38 M332.38,459.43 H336.38" stroke="#2a2a2a" stroke-width="1.3" fill="none"/>
<path d="M334.38,454.20 L337.98,457.80 L334.38,461.40 L330.78,457.80 Z" fill="#525252"/>
<path d="M352.76,447.63 V455.77 M350.76,447.63 H354.76 M350.76,455.77 H354.76" stroke="#2a2a2a" stroke-width="1.3" fill="none"/>
<path d="M352.76,448.10 L356.36,451.70 L352.76,455.30 L349.16,451.70 Z" fill="#525252"/>
<path d="M371.14,421.20 V429.33 M369.14,421.20 H373.14 M369.14,429.33 H373.14" stroke="#2a2a2a" stroke-width="1.3" fill="none"/>
<path d="M371.14,421.67 L374.74,425.27 L371.14,428.87 L367.54,425.27 Z" fill="#525252"/>
<path d="M389.52,448.10 L393.12,451.70 L389.52,455.30 L385.92,451.70 Z" fill="#525252"/>
<path d="M407.90,448.10 L411.50,451.70 L407.90,455.30 L404.30,451.70 Z" fill="#525252"/>
<path d="M426.28,475.49 V482.81 M424.28,475.49 H428.28 M424.28,482.81 H428.28" stroke="#2a2a2a" stroke-width="1.3" fill="none"/>
<path d="M426.28,475.55 L429.88,479.15 L426.28,482.75 L422.68,479.15 Z" fill="#525252"/>
<path d="M444.66,448.10 L448.26,451.70 L444.66,455.30 L441.06,451.70 Z" fill="#525252"/>
<path d="M463.04,435.90 L466.64,439.50 L463.04,443.10 L459.44,439.50 Z" fill="#525252"/>
<path d="M481.42,446.07 L485.02,449.67 L481.42,453.27 L477.82,449.67 Z" fill="#525252"/>
<text transform="translate(315.50,402.48) rotate(-55) scale(0.93,1)" font-size="14">Healthy</text>
<text transform="translate(335.75,404.73) rotate(-55) scale(0.93,1)" font-size="14">40</text>
<text transform="translate(354.82,405.02) rotate(-55) scale(0.93,1)" font-size="14">45</text>
<text transform="translate(372.98,405.20) rotate(-55) scale(0.93,1)" font-size="14">62</text>
<text transform="translate(391.98,405.12) rotate(-55) scale(0.93,1)" font-size="14">71</text><path transform="translate(391.98,405.12) rotate(-55) scale(0.93,1)" d="M7.78,-1.96H10.92V1.26H7.78ZM13.13,-1.96H16.74V1.26H13.13Z" fill="#fff"/>
<text transform="translate(409.60,404.77) rotate(-55) scale(0.93,1)" font-size="14">93</text>
<text transform="translate(429.00,404.95) rotate(-55) scale(0.93,1)" font-size="14">97</text>
<text transform="translate(447.82,403.75) rotate(-55) scale(0.93,1)" font-size="14">104</text><path transform="translate(447.82,403.75) rotate(-55) scale(0.93,1)" d="M-0.70,-1.96H3.14V1.26H-0.70ZM5.35,-1.96H7.91V1.26H5.35Z" fill="#fff"/>
<text transform="translate(467.48,403.88) rotate(-55) scale(0.93,1)" font-size="14">160</text><path transform="translate(467.48,403.88) rotate(-55) scale(0.93,1)" d="M-0.70,-1.96H3.14V1.26H-0.70ZM5.35,-1.96H7.91V1.26H5.35Z" fill="#fff"/>
<text transform="translate(486.75,403.93) rotate(-55) scale(0.93,1)" font-size="14">165</text><path transform="translate(486.75,403.93) rotate(-55) scale(0.93,1)" d="M-0.70,-1.96H3.14V1.26H-0.70ZM5.35,-1.96H7.91V1.26H5.35Z" fill="#fff"/></svg></body></html>
